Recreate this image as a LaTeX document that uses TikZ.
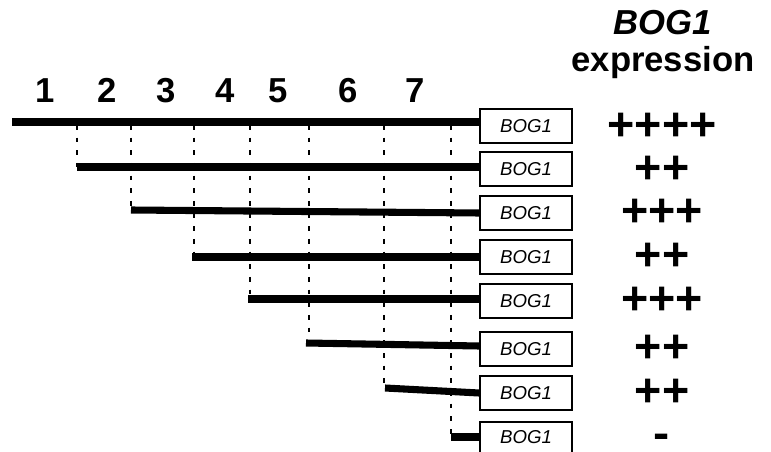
\documentclass[tikz,border=0pt]{standalone}
\usepackage{fontspec}
\setmainfont{Liberation Sans}
\begin{document}
\begin{tikzpicture}[x=0.75pt,y=-0.75pt,
  bar/.style={line width=5.3pt},
  guide/.style={line width=1.5pt,dash pattern=on 3.5pt off 6pt},
  genebox/.style={draw,line width=1.3pt,minimum width=69pt,minimum height=25pt,inner sep=0pt,font=\fontsize{14}{16}\selectfont\itshape},
  num/.style={anchor=base,inner sep=0pt,font=\fontsize{26}{28}\selectfont\bfseries},
  level/.style={inner sep=0pt,font=\fontsize{35}{36}\selectfont\bfseries},
  head/.style={inner sep=0pt,anchor=base,font=\fontsize{26}{28}\selectfont\bfseries}]
\useasboundingbox (0,0) rectangle (771,452);
\begin{scope}
\clip (0,0) rectangle (771,452);
% boxes
\node[genebox] (b1) at (526,126) {BOG1};
\node[genebox] (b2) at (526,169) {BOG1};
\node[genebox] (b3) at (526,213) {BOG1};
\node[genebox] (b4) at (526,257) {BOG1};
\node[genebox] (b5) at (526,301) {BOG1};
\node[genebox] (b6) at (526,349) {BOG1};
\node[genebox] (b7) at (526,393) {BOG1};
\node[genebox,minimum height=38pt,anchor=north] (b8) at (526,421) {};
\node[font=\fontsize{14}{16}\selectfont\itshape] (t8) at (526,437) {BOG1};
% line starts
\coordinate (s1) at (12,122);
\coordinate (s2) at (77,167);
\coordinate (s3) at (131,210);
\coordinate (s4) at (192,257);
\coordinate (s5) at (248,299);
\coordinate (s6) at (306,343);
\coordinate (s7) at (385,388);
\coordinate (s8) at (451,437);
% guides
\coordinate (g2a) at (77,125);  \coordinate (g2b) at (77,167);
\coordinate (g3a) at (131,125); \coordinate (g3b) at (131,210);
\coordinate (g4a) at (194,125); \coordinate (g4b) at (194,257);
\coordinate (g5a) at (250,125); \coordinate (g5b) at (250,299);
\coordinate (g6a) at (309,125); \coordinate (g6b) at (309,345);
\coordinate (g7a) at (384,125); \coordinate (g7b) at (384,390);
\coordinate (g8a) at (451,125); \coordinate (g8b) at (451,437);
\foreach \i in {2,...,8} {\draw[guide] (g\i a) -- (g\i b);}
% bars
\draw[bar] (s1) -- (b1.west |- s1);
\draw[bar] (s2) -- (b2.west |- s2);
\draw[bar] (s3) -- (b3.west);
\draw[bar] (s4) -- (b4.west);
\draw[bar] (s5) -- (b5.west |- s5);
\draw[bar] (s6) -- (b6.west |- 0,346);
\draw[bar] (s7) -- (b7.west);
\draw[bar] (s8) -- (b8.west |- s8);
\end{scope}
% numbers
\node[num] (n1) at (45,103) {1};
\node[num] (n2) at (107,103) {2};
\node[num] (n3) at (166,103) {3};
\node[num] (n4) at (225,103) {4};
\node[num] (n5) at (278,103) {5};
\node[num] (n6) at (348,103) {6};
\node[num] (n7) at (415,103) {7};
% header
\node[head] (h1) at (663,35) {\itshape BOG1};
\node[head] (h2) at (663,72) {expression};
% levels
\node[level] (l1) at (662,127) {++++};
\node[level] (l2) at (662,170) {++};
\node[level] (l3) at (662,213) {+++};
\node[level] (l4) at (662,257) {++};
\node[level] (l5) at (662,301) {+++};
\node[level] (l6) at (662,349) {++};
\node[level] (l7) at (662,393) {++};
\node[inner sep=0pt,anchor=base,font=\fontsize{26}{26}\selectfont\bfseries] (l8) at (662,448) {\scalebox{1.4}[1.3]{-}};
\end{tikzpicture}
\end{document}
